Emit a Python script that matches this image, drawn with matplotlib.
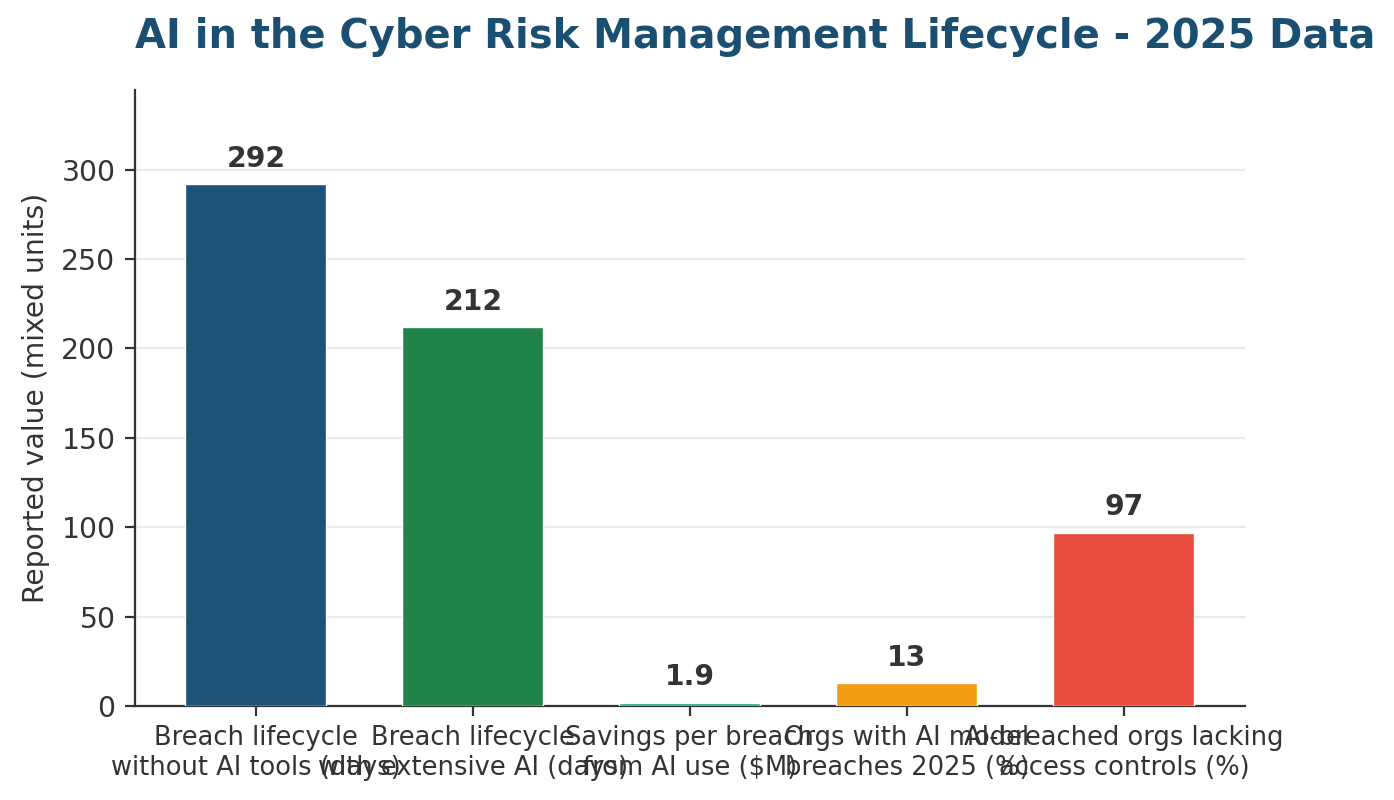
import matplotlib
matplotlib.use('Agg')
import matplotlib.pyplot as plt

categories = ['Breach lifecycle\nwithout AI tools (days)',
              'Breach lifecycle\nwith extensive AI (days)',
              'Savings per breach\nfrom AI use ($M)',
              'Orgs with AI model\nbreaches 2025 (%)',
              'AI-breached orgs lacking\naccess controls (%)']
values = [292, 212, 1.9, 13, 97]
labels = ['292', '212', '1.9', '13', '97']
colors = ['#1b5276', '#1e8449', '#17a589', '#f39c12', '#e74c3c']

fig, ax = plt.subplots(figsize=(6.97, 4.0), dpi=200)
fig.subplots_adjust(left=0.0968, right=0.893, bottom=0.1175, top=0.8875)

x = range(len(values))
bars = ax.bar(x, values, width=0.65, color=colors, edgecolor='white', linewidth=0.5, zorder=3)

for b, lab in zip(bars, labels):
    ax.annotate(lab, (b.get_x() + b.get_width() / 2, b.get_height()),
                xytext=(0, 4), textcoords='offset points', ha='center', va='bottom',
                fontsize=10.2, fontweight='bold', color='#333333')

ax.set_ylim(0, max(values) * 1.18)
ax.set_xticks(list(x))
ax.set_xticklabels(categories, fontsize=9.25, color='#333333')
ax.tick_params(axis='y', labelsize=10.2, colors='#333333')
ax.tick_params(axis='x', colors='#333333')
ax.set_ylabel('Reported value (mixed units)', fontsize=10.2, color='#333333')
ax.yaxis.grid(True, color='#e6ebf2', linewidth=0.8, zorder=0)
ax.set_axisbelow(True)
for s in ['top', 'right']:
    ax.spines[s].set_visible(False)
for s in ['left', 'bottom']:
    ax.spines[s].set_color('#333333')

ax.set_title('AI in the Cyber Risk Management Lifecycle - 2025 Data', loc='left',
             fontsize=14.4, fontweight='bold', color='#1b4f72', pad=15)

fig.savefig('out.png', dpi=200)
